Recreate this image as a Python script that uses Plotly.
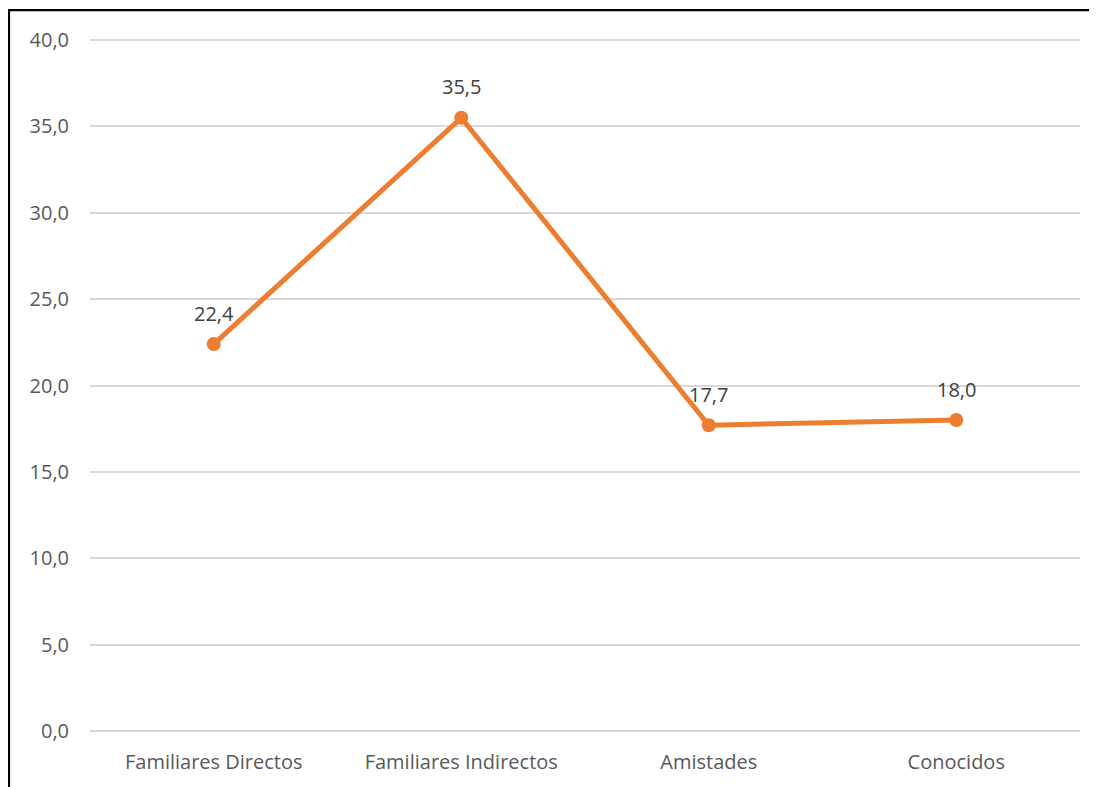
import plotly.graph_objects as go

categories = ["Familiares Directos", "Familiares Indirectos", "Amistades", "Conocidos"]
values = [22.4, 35.5, 17.7, 18.0]
y_ticks = [0, 5, 10, 15, 20, 25, 30, 35, 40]

# page body has an 8px margin; figure sized to fit the window
OFF = 8
W, H = 1097 - OFF, 787 - OFF
PAD = 0.12                      # y-range padding so edge gridlines are drawn
UNIT = (731 - 40) / 40.0        # px per y-unit in the reference
padpx = PAD * UNIT
L, R = 90 - OFF, W - (1080 - OFF)
T = 40 - OFF - padpx
B = H - (731 - OFF) - padpx
pw, ph = W - L - R, H - T - B

def px_to_paper_x(px):
    return (px - OFF - L) / pw

def px_to_paper_y(py):
    return (H - B - (py - OFF)) / ph

def fmt(v):
    return f"{v:.1f}".replace(".", ",")

fig = go.Figure()
fig.add_trace(go.Scatter(
    x=categories, y=values,
    mode="lines+markers",
    line=dict(color="#ED7D31", width=5),
    marker=dict(color="#ED7D31", size=14),
    cliponaxis=False,
    hoverinfo="skip",
))

for c, v in zip(categories, values):
    fig.add_annotation(x=c, y=v, text=fmt(v), showarrow=False, yshift=31,
                       font=dict(family="Open Sans", size=20, color="#404040"))

x0 = px_to_paper_x(9)
y_top = px_to_paper_y(10)
y_bot = px_to_paper_y(800)
x_right = px_to_paper_x(1100)
fig.add_shape(type="path", xref="paper", yref="paper",
              path=f"M {x0} {y_bot} L {x0} {y_top} L {x_right} {y_top}",
              line=dict(color="black", width=2.2))

fig.update_layout(
    width=W, height=H,
    margin=dict(l=L, r=R, t=T, b=B, pad=0),
    paper_bgcolor="white", plot_bgcolor="white",
    separators=",.",
    showlegend=False,
    font=dict(family="Open Sans", size=20, color="#595959"),
)
fig.update_xaxes(
    range=[-0.5, 3.5], showgrid=False, zeroline=False, showline=False,
    ticks="", ticklabelstandoff=15,
    tickfont=dict(family="Open Sans", size=20, color="#595959"),
)
fig.update_yaxes(
    range=[-PAD, 40 + PAD], tickvals=y_ticks,
    ticktext=[fmt(v) for v in y_ticks],
    showgrid=True, gridcolor="#d9d9d9", gridwidth=1.5,
    zeroline=False, showline=False, ticks="", ticklabelstandoff=20,
    tickfont=dict(family="Open Sans", size=20, color="#595959"),
)

fig.write_html("out.html")
